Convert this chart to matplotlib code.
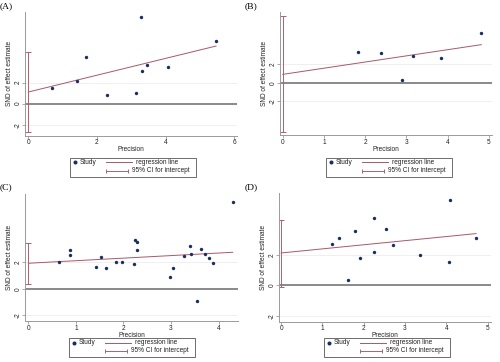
import matplotlib
matplotlib.use("Agg")
import matplotlib.pyplot as plt
from matplotlib.lines import Line2D
from matplotlib.patches import Rectangle

plt.rcParams['font.family'] = ['Liberation Sans', 'DejaVu Sans']

# ---------------- data ----------------
a_prec = [0.68, 1.43, 1.67, 2.28, 3.15, 3.27, 3.31, 3.45, 4.06, 5.47]
a_snd = [1.46, 2.19, 4.48, 0.83, 0.98, 8.29, 3.11, 3.65, 3.46, 5.97]
a_line = [1.11, 5.49]
a_ci = [-2.70, 4.89]

b_prec = [1.82, 2.39, 2.90, 3.16, 3.83, 4.82]
b_snd = [3.38, 3.24, 0.33, 2.95, 2.65, 5.38]
b_line = [0.91, 4.15]
b_ci = [-5.35, 7.31]

c_prec = [0.64, 0.88, 0.88, 1.42, 1.52, 1.63, 1.84, 1.96, 2.22, 2.25, 2.29, 2.29,
          2.98, 3.05, 3.28, 3.40, 3.42, 3.54, 3.64, 3.71, 3.80, 3.89, 4.30]
c_snd = [2.01, 2.97, 2.54, 1.69, 2.42, 1.58, 2.01, 2.06, 1.91, 3.67, 3.57, 2.94,
         0.91, 1.61, 2.52, 3.22, 2.62, -0.93, 3.00, 2.64, 2.31, 1.96, 6.59]
c_line = [1.94, 2.77]
c_ci = [0.40, 3.45]

d_prec = [1.24, 1.39, 1.63, 1.79, 1.90, 2.25, 2.25, 2.53, 2.71, 3.37, 4.06, 4.09, 4.72]
d_snd = [2.71, 3.13, 0.33, 3.58, 1.77, 4.39, 2.16, 3.69, 2.62, 1.99, 1.55, 5.57, 3.13]
d_line = [2.12, 3.39]
d_ci = [-0.11, 4.31]

panel_labels = ["(A)", "(B)", "(C)", "(D)"]
x_ticks = [[0, 2, 4, 6], [0, 1, 2, 3, 4, 5], [0, 1, 2, 3, 4], [0, 1, 2, 3, 4, 5]]
y_ticks = [-2, 0, 2]
x_label = "Precision"
y_label = "SND of effect estimate"
legend_labels = ["Study", "regression line", "95% CI for intercept"]

# ---------------- layout ----------------
W, H = 500, 362
fig = plt.figure(figsize=(5.0, 3.62), dpi=100)

def fx(px):
    return px / W

def fy(py):
    return 1 - py / H

panels = [
    dict(px=(25, 12, 237, 135.5), xlim=(-0.097, 6.08), ylim=(-3.03, 8.73),
         lab=(0, 2), leg=(70, 158)),
    dict(px=(280, 12, 492, 135), xlim=(-0.066, 5.08), ylim=(-5.7, 7.71),
         lab=(245, 2), leg=(326, 158)),
    dict(px=(25, 194, 238, 321), xlim=(-0.07, 4.41), ylim=(-2.42, 7.17),
         lab=(0, 183), leg=(69, 338)),
    dict(px=(279, 193, 491, 321.5), xlim=(-0.05, 5.08), ylim=(-2.37, 6.05),
         lab=(245, 183), leg=(324, 338)),
]

data = [
    (a_prec, a_snd, a_line, a_ci),
    (b_prec, b_snd, b_line, b_ci),
    (c_prec, c_snd, c_line, c_ci),
    (d_prec, d_snd, d_line, d_ci),
]

dot_col = '#1a2f5c'
line_col = '#a85868'
ci_col = '#b06070'
axis_col = '#9a9a9a'
txt_col = '#222222'
fs = 4.7


def legend_box(gl, gt):
    bw, bh = 126, 19
    fig.patches.append(Rectangle((fx(gl), fy(gt + bh)), fx(bw), bh / H,
                                 transform=fig.transFigure, fill=False,
                                 edgecolor='#555555', lw=0.6))
    r1 = gt + 4.5
    r2 = gt + 12.5
    fig.lines.append(Line2D([fx(gl + 5)], [fy(r1)], transform=fig.transFigure,
                            linestyle='none', marker='o', markersize=1.9,
                            color=dot_col))
    fig.text(fx(gl + 10), fy(r1), legend_labels[0], fontsize=fs, va='center',
             ha='left', color=txt_col)
    fig.lines.append(Line2D([fx(gl + 36), fx(gl + 62)], [fy(r1), fy(r1)],
                            transform=fig.transFigure, color=line_col, lw=0.7))
    fig.text(fx(gl + 66), fy(r1), legend_labels[1], fontsize=fs, va='center',
             ha='left', color=txt_col)
    fig.lines.append(Line2D([fx(gl + 36), fx(gl + 58)], [fy(r2), fy(r2)],
                            transform=fig.transFigure, color=ci_col, lw=0.7,
                            marker='|', markersize=3.5, markeredgewidth=0.7))
    fig.text(fx(gl + 62), fy(r2), legend_labels[2], fontsize=fs, va='center',
             ha='left', color=txt_col)


for i, (p, (xp, ys, ln, ci)) in enumerate(zip(panels, data)):
    l, t, r, b = p['px']
    ax = fig.add_axes([fx(l), fy(b), fx(r) - fx(l), fy(t) - fy(b)])
    ax.set_xlim(*p['xlim'])
    ax.set_ylim(*p['ylim'])
    for s in ['top', 'right']:
        ax.spines[s].set_visible(False)
    for s in ['left', 'bottom']:
        ax.spines[s].set_color(axis_col)
        ax.spines[s].set_linewidth(0.7)
    ax.set_xticks(x_ticks[i])
    ax.set_yticks(y_ticks)
    ax.set_yticklabels([str(v) for v in y_ticks], rotation=90, va='center')
    ax.tick_params(axis='both', length=2, width=0.6, color=axis_col,
                   labelsize=fs, pad=0.6, labelcolor=txt_col)
    for yv in y_ticks:
        if yv != 0:
            ax.axhline(yv, color='#ececec', lw=0.6, zorder=0)
    ax.axhline(0, color='#808080', lw=1.3, zorder=1)
    xmax = max(xp)
    ax.plot([0, xmax], ln, color=line_col, lw=0.7, zorder=2)
    ax.errorbar([0], [(ci[0] + ci[1]) / 2], yerr=[[(ci[1] - ci[0]) / 2]],
                fmt='none', ecolor=ci_col, elinewidth=0.7, capsize=2.2,
                capthick=0.7, zorder=2)
    ax.scatter(xp, ys, s=6, color=dot_col, zorder=3, linewidths=0)
    ax.set_xlabel(x_label, fontsize=fs, labelpad=0.0, color=txt_col)
    ax.set_ylabel(y_label, fontsize=fs, labelpad=0.8, color=txt_col)
    lx, ly = p['lab']
    fig.text(fx(lx), fy(ly), panel_labels[i], family=['Liberation Serif'],
             fontsize=6.8, va='top', ha='left')
    legend_box(*p['leg'])

fig.savefig('out.png', dpi=100)
